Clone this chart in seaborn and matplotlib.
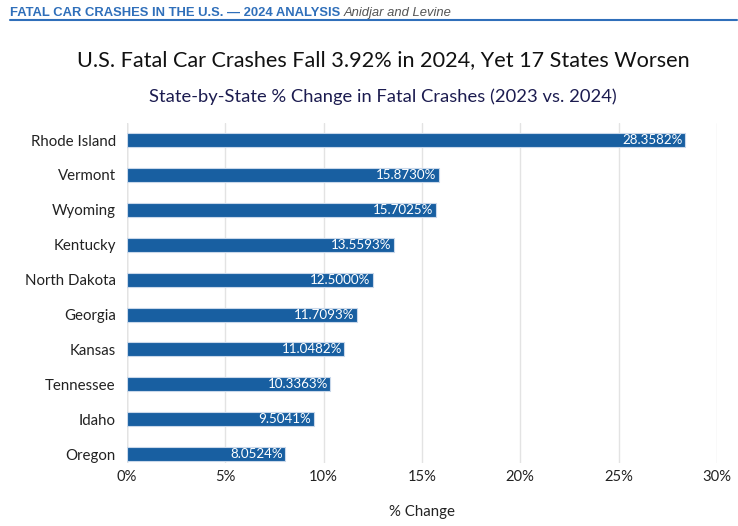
import matplotlib
matplotlib.use("Agg")
import matplotlib.pyplot as plt
import pandas as pd
import seaborn as sns

states = ["Rhode Island", "Vermont", "Wyoming", "Kentucky", "North Dakota",
          "Georgia", "Kansas", "Tennessee", "Idaho", "Oregon"]
pct_change = [28.3582, 15.8730, 15.7025, 13.5593, 12.5000,
              11.7093, 11.0482, 10.3363, 9.5041, 8.0524]
x_ticks = [0, 5, 10, 15, 20, 25, 30]

BAR_COLOR = "#185fa1"
HEADER_BLUE = "#2f6fba"

df = pd.DataFrame({"state": states, "pct": pct_change})

sns.set_theme(style="whitegrid")
plt.rcParams["font.family"] = ["Lato", "DejaVu Sans"]

fig = plt.figure(figsize=(7.38, 5.26), dpi=100)
ax = fig.add_axes([0.172, 0.120, 0.7995, 0.647])

sns.barplot(data=df, x="pct", y="state", color=BAR_COLOR, width=0.4,
            edgecolor="#c9d8ea", linewidth=0.8, saturation=1, ax=ax)

for i, v in enumerate(pct_change):
    ax.text(v - 0.12, i, f"{v:.4f}%", color="white", va="center", ha="right",
            fontsize=9.6)

ax.set_xlim(0, 30)
ax.set_ylim(9.25, -0.5)
ax.set_xticks(x_ticks)
ax.set_xticklabels([f"{t}%" for t in x_ticks])
ax.tick_params(axis="x", labelsize=10.6, colors="#222222", pad=5, length=0)
ax.tick_params(axis="y", labelsize=10.8, colors="#222222", pad=8, length=0)
ax.set_xlabel("% Change", fontsize=10.8, color="#222222", labelpad=15)
ax.set_ylabel("")
ax.grid(axis="x", color="#e3e3e3", linewidth=1)
ax.grid(axis="y", visible=False)
for s in ax.spines.values():
    s.set_visible(False)
ax.axvline(0, color="#c8c8c8", linewidth=1, zorder=0)

# header strip: bold kicker followed by italic byline
kicker = fig.text(0.0135, 0.975, "FATAL CAR CRASHES IN THE U.S. \u2014 2024 ANALYSIS",
                  family="Liberation Sans", fontweight="bold", fontsize=9.4,
                  color=HEADER_BLUE, va="center", ha="left")
renderer = fig.canvas.get_renderer()
bb = kicker.get_window_extent(renderer).transformed(fig.transFigure.inverted())
fig.text(bb.x1 + 0.005, 0.975, "Anidjar and Levine", family="Liberation Sans",
         style="italic", fontsize=9.4, color="#555555", va="center", ha="left")
fig.add_artist(plt.Line2D([0.0135, 0.9985], [0.9625, 0.9625],
                          color=HEADER_BLUE, linewidth=1.5))

fig.text(0.519, 0.886, "U.S. Fatal Car Crashes Fall 3.92% in 2024, Yet 17 States Worsen",
         fontsize=15.6, color="#111111", ha="center", va="center")
fig.text(0.519, 0.816, "State-by-State % Change in Fatal Crashes (2023 vs. 2024)",
         fontsize=13.2, color="#1c1c50", ha="center", va="center")

fig.savefig("out.png", dpi=100)
